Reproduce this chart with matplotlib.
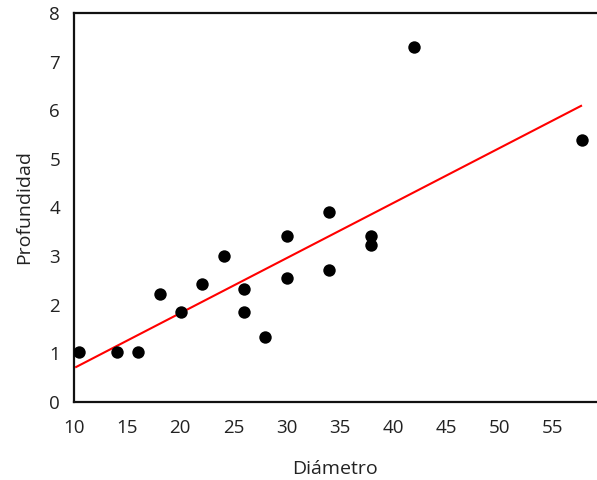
import matplotlib
matplotlib.use("Agg")
import matplotlib.pyplot as plt

diametro = [10.5, 14.0, 16.0, 18.1, 20.1, 22.0, 24.1, 26.0, 26.0, 28.0, 30.0, 30.0, 34.0, 34.0, 37.9, 37.9, 42.0, 57.8]
profundidad = [1.02, 1.02, 1.02, 2.22, 1.85, 2.42, 3.00, 2.33, 1.85, 1.33, 3.42, 2.54, 3.91, 2.72, 3.42, 3.23, 7.31, 5.39]

trend_x = [10.2, 57.7]
trend_y = [0.72, 6.09]

xticks = [10, 15, 20, 25, 30, 35, 40, 45, 50, 55]
yticks = [0, 1, 2, 3, 4, 5, 6, 7, 8]

plt.rcParams['font.family'] = ['Open Sans', 'DejaVu Sans']

fig = plt.figure(figsize=(5.97, 4.80), dpi=100)
ax = fig.add_axes([74/597, 78/480, 1 - 74/597, (402-13)/480])

ax.scatter(diametro, profundidad, s=80, color='black', zorder=3, linewidths=0)
ax.plot(trend_x, trend_y, color='#ff0000', lw=1.5, zorder=2)

ax.set_xlim(10, 59.2)
ax.set_ylim(0, 8)
ax.set_xticks(xticks)
ax.set_yticks(yticks)
ax.tick_params(length=0, labelsize=13.5, colors='#222222')
ax.tick_params(axis='x', pad=12)
ax.tick_params(axis='y', pad=10)
for s in ['left', 'bottom', 'top']:
    ax.spines[s].set_linewidth(1.6)
    ax.spines[s].set_color('#111111')
ax.spines['right'].set_visible(False)

ax.set_xlabel('Diámetro', fontsize=14, color='#222222', labelpad=17)
ax.set_ylabel('Profundidad', fontsize=14, color='#222222', labelpad=12)

fig.savefig('out.png', dpi=100)
